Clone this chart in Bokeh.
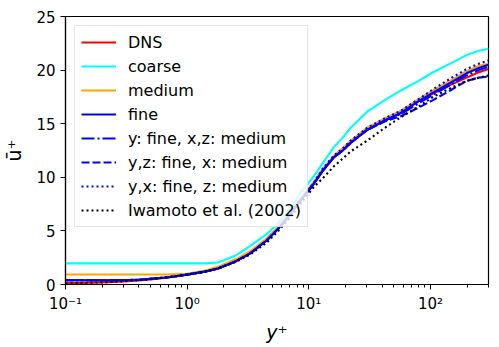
from bokeh.plotting import figure
from bokeh.models import Legend, LegendItem, FixedTicker
from bokeh.embed import file_html
from bokeh.resources import INLINE

# ---- data ----
yplus = [0.1, 0.2, 0.3, 0.4, 0.5, 0.7, 1.0, 1.4, 1.8, 2.5, 3.3, 4.5, 5.5, 7, 8.5,
         11, 13, 16, 19, 22, 30, 42, 57, 80, 105, 145, 198, 250, 300]

dns = [0.12, 0.2, 0.29, 0.38, 0.48, 0.66, 0.92, 1.2, 1.5, 2.15, 2.9, 4.1, 5.1, 6.5, 7.8,
       9.4, 10.6, 11.85, 12.5, 13.2, 14.4, 15.3, 16.0, 17.1, 17.8, 18.6, 19.3, 19.8, 20.1]
coarse = [1.97, 1.97, 1.97, 1.97, 1.97, 1.97, 1.97, 1.97, 2.05, 2.7, 3.6, 4.7, 5.6, 7.1, 8.5,
          10.1, 11.3, 12.8, 13.7, 14.6, 16.1, 17.2, 18.1, 19.0, 19.8, 20.6, 21.4, 21.8, 22.0]
medium = [0.93, 0.93, 0.93, 0.93, 0.93, 0.93, 1.0, 1.3, 1.65, 2.35, 3.1, 4.3, 5.3, 6.7, 8.0,
          9.6, 10.8, 12.0, 12.7, 13.4, 14.6, 15.5, 16.2, 17.3, 18.1, 19.0, 19.9, 20.4, 20.6]
fine = [0.40, 0.40, 0.41, 0.45, 0.53, 0.68, 0.92, 1.2, 1.5, 2.15, 2.9, 4.1, 5.1, 6.5, 7.8,
        9.4, 10.6, 11.85, 12.5, 13.2, 14.4, 15.3, 16.0, 17.1, 17.9, 18.8, 19.7, 20.2, 20.5]
y_fine_xz_medium = [0.40, 0.40, 0.41, 0.45, 0.53, 0.68, 0.92, 1.2, 1.5, 2.15, 2.9, 4.1, 5.1, 6.5, 7.8,
                    9.4, 10.6, 11.85, 12.5, 13.2, 14.4, 15.3, 15.9, 16.9, 17.7, 18.6, 19.5, 20.0, 20.3]
yz_fine_x_medium = [0.40, 0.40, 0.41, 0.45, 0.53, 0.68, 0.92, 1.2, 1.5, 2.15, 2.9, 4.1, 5.1, 6.5, 7.8,
                    9.4, 10.6, 11.85, 12.5, 13.2, 14.4, 15.2, 15.7, 16.5, 17.2, 18.1, 19.0, 19.3, 19.4]
yx_fine_z_medium = [0.40, 0.40, 0.41, 0.45, 0.53, 0.68, 0.92, 1.2, 1.5, 2.15, 2.9, 4.1, 5.1, 6.5, 7.8,
                    9.5, 10.8, 12.0, 12.7, 13.4, 14.6, 15.5, 16.2, 17.3, 18.2, 19.2, 20.1, 20.6, 20.9]
iwamoto = [0.1, 0.2, 0.3, 0.4, 0.5, 0.68, 0.93, 1.2, 1.5, 2.1, 2.8, 3.9, 4.9, 6.2, 7.5,
           9.1, 9.9, 11.0, 11.75, 12.4, 13.4, 14.6, 15.6, 16.6, 17.5, 18.3, 19.0, 19.3, 19.5]

labels = ["DNS", "coarse", "medium", "fine", "y: fine, x,z: medium",
          "y,z: fine, x: medium", "y,x: fine, z: medium", "Iwamoto et al. (2002)"]
series = [dns, coarse, medium, fine, y_fine_xz_medium, yz_fine_x_medium,
          yx_fine_z_medium, iwamoto]
colors = ["red", "#00ffff", "#ffa500", "blue", "blue", "blue", "blue", "black"]
dashes = ["solid", "solid", "solid", "solid", "13 3 2 3", "8 3", "2 3", "2 3"]

xticks = [0.1, 1, 10, 100]
xtick_labels = ["10\u207b\u00b9", "10\u2070", "10\u00b9", "10\u00b2"]
yticks = [0, 5, 10, 15, 20, 25]

FONT = "DejaVu Sans"

p = figure(width=499, height=347, x_axis_type="log", x_range=(0.1, 300), y_range=(0, 25),
           output_backend="svg", toolbar_location=None,
           min_border_left=64, min_border_right=11, min_border_top=16, min_border_bottom=63)
p.grid.visible = False
p.outline_line_color = "black"
p.outline_line_width = 1.2
p.background_fill_color = "white"
p.border_fill_color = "white"

items = []
for lab, ys, c, d in zip(labels, series, colors, dashes):
    r = p.line(yplus, ys, line_color=c, line_width=2.1, line_dash=d, line_join="round")
    items.append(LegendItem(label=lab, renderers=[r]))

legend = Legend(items=items, location="top_left", margin=9, padding=6, spacing=4,
                label_height=20, glyph_height=20, glyph_width=35, label_standoff=12,
                label_text_font=FONT, label_text_font_size="16px",
                label_text_color="black",
                border_line_color="#cccccc", border_line_width=1,
                background_fill_alpha=0.8)
p.add_layout(legend)

for ax in (p.xaxis[0], p.yaxis[0]):
    ax.axis_line_color = "black"
    ax.axis_line_width = 1.2
    ax.major_tick_in = 0
    ax.major_tick_out = 5
    ax.major_label_text_font = FONT
    ax.major_label_text_font_size = "15px"
    ax.major_label_text_color = "black"
    ax.axis_label_text_font = FONT
    ax.axis_label_text_font_size = "19px"
    ax.axis_label_text_font_style = "normal"
    ax.axis_label_text_color = "black"

p.xaxis[0].minor_tick_in = 0
p.xaxis[0].minor_tick_out = 3
p.xaxis[0].major_label_overrides = {v: t for v, t in zip(xticks, xtick_labels)}
p.xaxis[0].axis_label = "y\u207a"
p.xaxis[0].axis_label_text_font_style = "italic"
p.xaxis[0].major_label_standoff = 5
p.xaxis[0].axis_label_standoff = 5

p.yaxis[0].ticker = FixedTicker(ticks=yticks)
p.yaxis[0].minor_tick_out = 0
p.yaxis[0].minor_tick_in = 0
p.yaxis[0].axis_label = "\u016b\u207a"
p.yaxis[0].major_label_standoff = 5
p.yaxis[0].axis_label_standoff = 8

open("out.html", "w").write(file_html(p, INLINE))
